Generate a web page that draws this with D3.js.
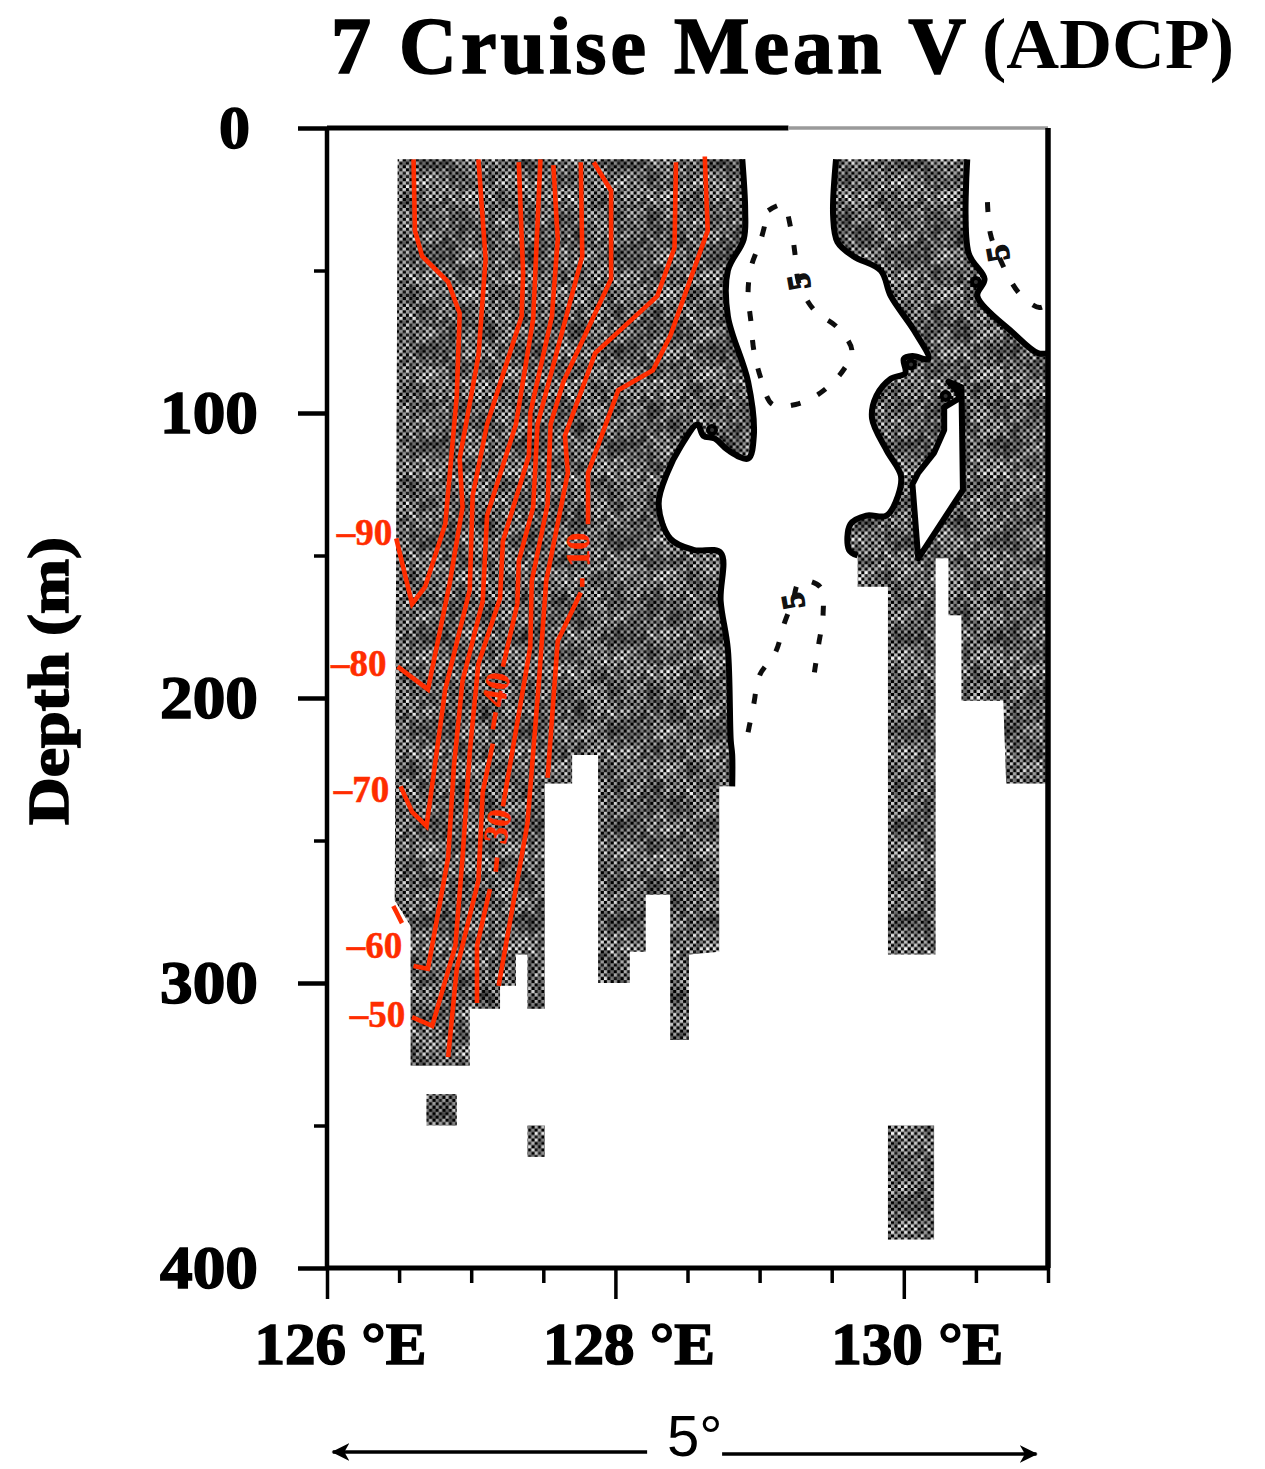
<!DOCTYPE html>
<html>
<head>
<meta charset="utf-8">
<title>7 Cruise Mean V (ADCP)</title>
<script src="https://cdn.jsdelivr.net/npm/d3@7"></script>
<style>
  body { margin: 0; background: #fff; }
  text { font-family: "Liberation Serif", serif; font-weight: bold; }
  .contour { fill: none; stroke: #ff2d00; stroke-width: 4.6; stroke-linejoin: miter; }
  .clabel { fill: #ff2d00; stroke: #ff2d00; stroke-width: 0.5; text-anchor: middle; dominant-baseline: central; }
  .coast { fill: none; stroke: #040404; stroke-width: 6; stroke-linejoin: round; }
  .salt { fill: none; stroke: #111; stroke-width: 5; stroke-dasharray: 10 19; }
  .slabel { fill: #111; stroke: #111; stroke-width: 1.5; font-size: 32px; text-anchor: middle; dominant-baseline: central; }
  .heavy text { stroke: #000; stroke-width: 1.6; }
</style>
</head>
<body>
<svg id="chart" width="1265" height="1469"></svg>
<script>
// all pairs below are [longitude E, depth m]
const depthTicks = [0, 100, 200, 300, 400];
const depthMinor = [50, 150, 250, 350];
const lonTicks = [126, 128, 130];
const lonMinor = [126.5, 127, 127.5, 128.5, 129, 129.5, 130.5, 131];

// area with ADCP coverage (shaded in the figure)
const westBlock = [[126.49,11],[128.88,11],[128.90,29],[128.89,39],[128.78,50],[128.78,66],[128.92,89],[128.96,108],[128.92,116],[128.78,113],[128.69,109],[128.61,108],[128.57,104],[128.45,112],[128.36,121],[128.30,132],[128.38,144],[128.54,148],[128.73,149],[128.73,166],[128.78,183],[128.80,215],[128.81,220],[128.81,231],[128.72,231],[128.72,289],[128.51,290],[128.51,320],[128.38,320],[128.38,269],[128.21,269],[128.21,289],[128.10,289],[128.10,300],[127.88,300],[127.88,220],[127.70,220],[127.70,230],[127.51,230],[127.51,309],[127.39,309],[127.39,290],[127.31,290],[127.31,301],[127.20,301],[127.20,309],[126.99,309],[126.99,329],[126.58,329],[126.58,280],[126.47,271]];
const eastBlock = [[129.53,11],[130.44,11],[130.45,44],[130.56,53],[130.51,59],[130.76,72],[130.93,79],[131,79],[131,230],[130.71,230],[130.69,201],[130.40,201],[130.40,171],[130.31,171],[130.31,151],[130.22,151],[130.22,290],[129.89,290],[129.89,161],[129.68,161],[129.68,150],[129.62,148],[129.63,139],[129.74,136],[129.88,136],[129.96,129],[129.98,122],[129.88,113],[129.78,102],[129.81,94],[129.91,88],[130.01,86],[130.00,81],[130.06,80],[130.17,81],[130.07,71],[129.91,59],[129.84,50],[129.65,45],[129.54,40],[129.51,31]];
const islandGap = [[130.31,89],[130.40,91],[130.41,127],[130.10,151],[130.06,125],[130.10,121],[130.21,114],[130.28,106],[130.28,98],[130.38,95],[130.38,93]];
const patchA = [[126.69,339],[126.90,339],[126.90,350],[126.69,350]];
const patchB = [[127.39,350],[127.51,350],[127.51,361],[127.39,361]];
const patchC = [[129.89,350],[130.21,350],[130.21,390],[129.89,390]];
const islets = [[130.05,83],[130.29,94],[128.67,106],[130.50,54]];

// velocity contours, cm/s
const contourM90 = [[126.60,11],[126.61,36],[126.66,45],[126.84,54],[126.92,65],[126.90,94],[126.82,139],[126.68,161],[126.59,167],[126.48,144]];
const contourM80 = [[127.05,11],[127.10,46],[127.05,80],[126.92,116],[126.94,133],[126.85,160],[126.70,197],[126.49,189]];
const contourM70 = [[127.33,12],[127.36,51],[127.35,66],[127.11,104],[127.01,129],[126.99,162],[126.82,197],[126.69,245],[126.59,240],[126.51,231]];
const contourM60 = [[127.48,11],[127.43,67],[127.31,104],[127.11,136],[127.08,166],[126.94,194],[126.88,224],[126.84,256],[126.70,295],[126.60,294]];
const contourM60b = [[126.46,273],[126.52,279]];
const contourM50 = [[127.57,13],[127.60,39],[127.56,66],[127.41,100],[127.40,115],[127.22,145],[127.20,165],[127.05,188],[126.99,219],[126.94,256],[126.89,287],[126.73,315],[126.59,312]];
const contourM40a = [[127.76,12],[127.77,45],[127.46,104],[127.43,133],[127.33,152],[127.32,167],[127.22,189]];
const contourM40b = [[127.17,205],[127.15,211]];
const contourM40c = [[127.15,216],[127.08,233],[127.05,264],[126.90,295],[126.84,326]];
const contourM30a = [[127.85,12],[127.97,22],[127.97,53],[127.64,89],[127.55,104],[127.53,132],[127.42,159],[127.41,182],[127.22,238]];
const contourM30b = [[127.18,256],[127.17,261]];
const contourM30c = [[127.13,267],[127.04,287],[127.04,307]];
const contourM20 = [[128.42,12],[128.41,42],[128.29,59],[127.86,79],[127.65,108],[127.67,121],[127.52,159],[127.47,194],[127.39,244],[127.19,301]];
const contourM10a = [[128.62,10],[128.64,36],[128.38,73],[128.26,85],[128.02,92],[127.81,121],[127.81,139]];
const contourM10b = [[127.77,158],[127.77,161]];
const contourM10c = [[127.76,163],[127.60,180],[127.53,228]];

const contourList = [contourM90, contourM80, contourM70, contourM60, contourM60b, contourM50, contourM40a, contourM40b, contourM40c, contourM30a, contourM30b, contourM30c, contourM20, contourM10a, contourM10b, contourM10c];

const labelTexts = ['\u201390', '\u201380', '\u201370', '\u201360', '\u201350', '10', '40', '30'];
const labelLons = [126.26, 126.22, 126.24, 126.33, 126.35, 127.74, 127.17, 127.18];
const labelDepths = [142, 188, 232, 287, 311, 148, 197, 245];
const labelAngles = [0, 0, 0, 0, 0, -90, -80, -80];

// dashed "5" contours
const saltLoop = [[129.06,29],[129.16,27],[129.22,36],[129.25,46],[129.27,54],[129.38,64],[129.54,70],[129.64,78],[129.58,85],[129.42,93],[129.25,97],[129.09,97],[129.01,88],[128.96,78],[128.94,68],[128.92,58],[128.94,49],[129.01,39],[129.06,29]];
const saltEast = [[130.58,26],[130.60,37],[130.65,44],[130.80,58],[130.94,63],[130.99,62]];
const saltSouth = [[128.92,212],[128.96,202],[129.00,192],[129.11,184],[129.17,174],[129.23,166],[129.28,159],[129.42,161],[129.44,171],[129.41,181],[129.38,191]];
const saltLabels = [[129.27,54],[130.65,44],[129.23,166]];

// dither tile for the shading, 0 black .. 9 white
const ditherTile = [
  '090509150806', '804060816080', '060815070605', '718040807180',
  '071806050708', '806150708091', '160805070816', '807150919060',
  '070906150806', '618070805170', '080617040708', '807090608190'
];
// slow darkening laid over the dither, 0 none .. 9 strong
const mottleTile = ['07230', '40718', '92054', '03860', '61027'];

const svg = d3.select('#chart');
const x = d3.scaleLinear().domain([126, 131]).range([327, 1048]);
const y = d3.scaleLinear().domain([0, 400]).range([128, 1268]);

const defs = svg.append('defs');
const cell = 3.3;
const pattern = defs.append('pattern')
  .attr('id', 'dither')
  .attr('patternUnits', 'userSpaceOnUse')
  .attr('width', cell * 12)
  .attr('height', cell * 12);
ditherTile.forEach((row, j) => {
  row.split('').forEach((c, i) => {
    const g = Math.round(+c / 9 * 255);
    pattern.append('rect')
      .attr('x', i * cell).attr('y', j * cell)
      .attr('width', cell + 0.1).attr('height', cell + 0.1)
      .attr('fill', `rgb(${g},${g},${g})`);
  });
});
defs.append('filter').attr('id', 'soft')
  .append('feGaussianBlur').attr('stdDeviation', 0.6);
defs.append('filter').attr('id', 'wide')
  .append('feGaussianBlur').attr('stdDeviation', 6);
const mottleCell = 19;
const mottle = defs.append('pattern')
  .attr('id', 'mottle')
  .attr('patternUnits', 'userSpaceOnUse')
  .attr('width', mottleCell * 5)
  .attr('height', mottleCell * 5)
  .append('g').attr('filter', 'url(#wide)');
mottleTile.forEach((row, j) => {
  row.split('').forEach((c, i) => {
    mottle.append('rect')
      .attr('x', i * mottleCell).attr('y', j * mottleCell)
      .attr('width', mottleCell).attr('height', mottleCell)
      .attr('fill', '#000').attr('opacity', +c / 9 * 0.55);
  });
});
const marker = defs.append('marker')
  .attr('id', 'head').attr('viewBox', '0 0 14 14')
  .attr('refX', 13).attr('refY', 7)
  .attr('markerWidth', 18).attr('markerHeight', 18)
  .attr('markerUnits', 'userSpaceOnUse')
  .attr('orient', 'auto-start-reverse');
marker.append('path').attr('d', 'M0,0L14,7L0,14L4,7Z').attr('fill', '#000');

const line = d3.line().x(d => x(d[0])).y(d => y(d[1]));
const smooth = d3.line().x(d => x(d[0])).y(d => y(d[1])).curve(d3.curveCatmullRom);

// shading
const shade = svg.append('g');
const blocks = [westBlock, eastBlock, patchA, patchB, patchC];
shade.selectAll('path.block')
  .data(blocks)
  .enter().append('path')
  .attr('class', 'block')
  .attr('d', d => line(d) + 'Z')
  .attr('fill', 'url(#dither)');
shade.selectAll('path.mottle')
  .data(blocks)
  .enter().append('path')
  .attr('class', 'mottle')
  .attr('d', d => line(d) + 'Z')
  .attr('fill', 'url(#mottle)');

// coast outlines use stretches of the block edges
const coasts = [westBlock.slice(1, 24), eastBlock.slice(1, 8), eastBlock.slice(20).concat([eastBlock[0]])];
shade.selectAll('path.coast')
  .data(coasts)
  .enter().append('path')
  .attr('class', 'coast')
  .attr('filter', 'url(#soft)')
  .attr('d', d => smooth(d));
shade.append('path')
  .attr('class', 'coast')
  .attr('filter', 'url(#soft)')
  .style('fill', '#fff')
  .attr('d', line(islandGap) + 'Z');
shade.selectAll('circle.islet')
  .data(islets)
  .enter().append('circle')
  .attr('class', 'islet')
  .attr('cx', d => x(d[0])).attr('cy', d => y(d[1]))
  .attr('r', 4)
  .attr('fill', '#333').attr('stroke', '#000').attr('stroke-width', 4);

// dashed contours
svg.selectAll('path.salt')
  .data([saltLoop, saltEast, saltSouth])
  .enter().append('path')
  .attr('class', 'salt')
  .attr('filter', 'url(#soft)')
  .attr('d', d => smooth(d));
svg.selectAll('text.slabel')
  .data(saltLabels)
  .enter().append('text')
  .attr('class', 'slabel')
  .attr('transform', d => `translate(${x(d[0])},${y(d[1])}) rotate(-100)`)
  .text('5');

// velocity contours
svg.selectAll('path.contour')
  .data(contourList)
  .enter().append('path')
  .attr('class', 'contour')
  .attr('d', line);

svg.selectAll('text.clabel')
  .data(labelTexts)
  .enter().append('text')
  .attr('class', 'clabel')
  .attr('font-size', (d, i) => labelAngles[i] ? 34 : 37)
  .attr('transform', (d, i) => `translate(${x(labelLons[i])},${y(labelDepths[i])}) rotate(${labelAngles[i]})`)
  .text(d => d);

// frame, top edge fades to grey past 129.2E in the scan
const axes = svg.append('g').attr('class', 'heavy').attr('filter', 'url(#soft)');
const frameEdges = [
  [[126, 0], [129.2, 0], '#000', 5],
  [[129.2, 0], [131, 0], '#9a9a9a', 3.5],
  [[126, 0], [126, 400], '#000', 4.5],
  [[131, 0], [131, 400], '#000', 5.5],
  [[126, 400], [131, 400], '#000', 5]
];
axes.selectAll('line.edge')
  .data(frameEdges)
  .enter().append('line')
  .attr('class', 'edge')
  .attr('x1', d => x(d[0][0])).attr('y1', d => y(d[0][1]))
  .attr('x2', d => x(d[1][0])).attr('y2', d => y(d[1][1]))
  .attr('stroke', d => d[2]).attr('stroke-width', d => d[3]);

const leftMajor = axes.append('g')
  .attr('transform', `translate(${x(126)},0)`)
  .call(d3.axisLeft(y).tickValues(depthTicks).tickSize(29).tickPadding(40));
const leftMinor = axes.append('g')
  .attr('transform', `translate(${x(126)},0)`)
  .call(d3.axisLeft(y).tickValues(depthMinor).tickSize(13).tickFormat(''));
const bottomMajor = axes.append('g')
  .attr('transform', `translate(0,${y(400)})`)
  .call(d3.axisBottom(x).tickValues(lonTicks).tickSize(31).tickFormat(d => d + ' \u00b0E'));
const bottomMinor = axes.append('g')
  .attr('transform', `translate(0,${y(400)})`)
  .call(d3.axisBottom(x).tickValues(lonMinor).tickSize(15).tickFormat(''));

[leftMajor, leftMinor, bottomMajor, bottomMinor].forEach(g => {
  g.select('.domain').remove();
  g.selectAll('.tick line').attr('stroke', '#000').attr('stroke-width', 3.5);
});
leftMajor.selectAll('.tick line').attr('stroke-width', 4.5);

leftMajor.selectAll('text')
  .attr('fill', '#000')
  .attr('font-size', 62)
  .attr('dy', '0.32em')
  .attr('x', d => d === 0 ? -77 : -69)
  .attr('textLength', d => d === 0 ? 31 : 98)
  .attr('lengthAdjust', 'spacingAndGlyphs');
bottomMajor.selectAll('text')
  .attr('fill', '#000')
  .attr('font-size', 60)
  .attr('dy', 0)
  .attr('y', 96)
  .attr('x', 13)
  .attr('textLength', 172)
  .attr('lengthAdjust', 'spacingAndGlyphs');

// titles
const titles = svg.append('g').attr('class', 'heavy').attr('filter', 'url(#soft)');
titles.append('text')
  .attr('x', 331).attr('y', 73)
  .attr('font-size', 80)
  .attr('textLength', 635).attr('lengthAdjust', 'spacing')
  .text('7 Cruise Mean V');
svg.append('text')
  .attr('x', 982).attr('y', 68)
  .attr('font-size', 72)
  .attr('textLength', 252).attr('lengthAdjust', 'spacingAndGlyphs')
  .text('(ADCP)');
titles.append('text')
  .attr('transform', `translate(68,${y(0) + 553}) rotate(-90)`)
  .attr('text-anchor', 'middle')
  .attr('font-size', 56)
  .attr('textLength', 288).attr('lengthAdjust', 'spacingAndGlyphs')
  .text('Depth (m)');

// 5 degree span
svg.append('text')
  .attr('x', x(128.55)).attr('y', 1456)
  .attr('text-anchor', 'middle')
  .attr('font-size', 58)
  .style('font-family', '"Liberation Sans", sans-serif')
  .style('font-weight', 'normal')
  .text('5\u00b0');
const spanArrows = [[126.04, 128.22], [128.74, 130.92]];
svg.selectAll('line.span')
  .data(spanArrows)
  .enter().append('line')
  .attr('class', 'span')
  .attr('x1', d => x(d[0])).attr('x2', d => x(d[1]))
  .attr('y1', (d, i) => 1452 + i * 2).attr('y2', (d, i) => 1452 + i * 2)
  .attr('stroke', '#000').attr('stroke-width', 3.5)
  .attr('marker-start', (d, i) => i === 0 ? 'url(#head)' : null)
  .attr('marker-end', (d, i) => i === 1 ? 'url(#head)' : null);
</script>
</body>
</html>
